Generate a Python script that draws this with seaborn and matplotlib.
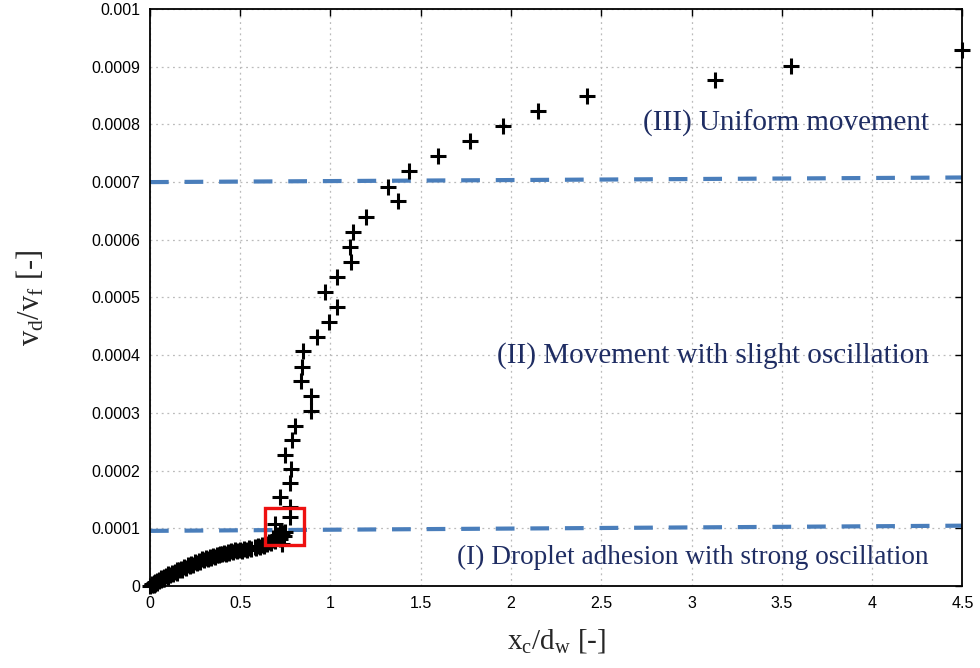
import numpy as np
import matplotlib
matplotlib.use("Agg")
import matplotlib.pyplot as plt
from matplotlib.patches import Rectangle
import seaborn as sns

# ---- data (velocity ratio in units of 1e-4) ----
# dense adhesion cluster near the origin
cluster_x = [0.00, 0.01, 0.01, 0.02, 0.02, 0.03, 0.03, 0.04, 0.04, 0.05,
             0.05, 0.06, 0.06, 0.07, 0.08, 0.08, 0.09, 0.10, 0.10, 0.11,
             0.12, 0.13, 0.14, 0.15, 0.15, 0.16, 0.17, 0.18, 0.19, 0.20,
             0.21, 0.22, 0.23, 0.24, 0.25, 0.26, 0.27, 0.28, 0.29, 0.30,
             0.31, 0.32, 0.33, 0.34, 0.35, 0.36, 0.37, 0.38, 0.39, 0.40,
             0.41, 0.42, 0.43, 0.44, 0.45, 0.46, 0.47, 0.48, 0.50, 0.51,
             0.52, 0.54, 0.55, 0.56, 0.58, 0.59, 0.60, 0.61, 0.62, 0.63,
             0.64, 0.65, 0.66, 0.67, 0.68, 0.69, 0.70, 0.71, 0.72, 0.73,
             0.74, 0.75, 0.73, 0.69, 0.72, 0.68]
cluster_y = [0.00, 0.01, 0.03, 0.02, 0.05, 0.04, 0.07, 0.06, 0.09, 0.08,
             0.11, 0.10, 0.13, 0.12, 0.15, 0.12, 0.17, 0.16, 0.20, 0.19,
             0.22, 0.20, 0.25, 0.23, 0.28, 0.27, 0.30, 0.28, 0.33, 0.31,
             0.36, 0.34, 0.38, 0.37, 0.41, 0.39, 0.44, 0.42, 0.46, 0.45,
             0.48, 0.47, 0.51, 0.49, 0.52, 0.50, 0.54, 0.53, 0.56, 0.55,
             0.58, 0.56, 0.59, 0.58, 0.61, 0.59, 0.62, 0.60, 0.63, 0.61,
             0.64, 0.63, 0.66, 0.64, 0.67, 0.65, 0.69, 0.67, 0.71, 0.69,
             0.74, 0.72, 0.77, 0.75, 0.80, 0.78, 0.84, 0.88, 0.82, 0.91,
             0.86, 0.93, 0.72, 1.08, 0.94, 0.83]
# transition and uniform-movement branch
branch_x = [0.778, 0.778, 0.719, 0.778, 0.780, 0.750, 0.787, 0.806, 0.894,
            0.891, 0.839, 0.845, 0.850, 0.924, 0.994, 1.035, 0.968, 1.038,
            1.112, 1.109, 1.127, 1.199, 1.373, 1.318, 1.434, 1.593, 1.771,
            1.957, 2.151, 2.420, 3.130, 3.550, 4.500]
branch_y = [1.20, 1.37, 1.55, 1.78, 2.03, 2.27, 2.53, 2.77, 3.03,
            3.29, 3.55, 3.80, 4.07, 4.32, 4.58, 4.84, 5.10, 5.36,
            5.62, 5.88, 6.14, 6.40, 6.67, 6.91, 7.19, 7.45, 7.72,
            7.97, 8.23, 8.49, 8.77, 9.01, 9.29]

# regime boundaries (x from 0 to 4.5)
bound_x = [0.0, 4.5]
bound_low = [0.955, 1.045]
bound_high = [7.00, 7.08]

# highlighted region [x0, x1, y0, y1]
box_x = [0.637, 0.854]
box_y = [0.71, 1.35]

regime_labels = ["(III) Uniform movement",
                 "(II) Movement with slight oscillation",
                 "(I) Droplet adhesion with strong oscillation"]
regime_label_y = [8.01, 3.99, 0.49]
regime_label_size = [21, 21, 19.6]

x_ticks = [0, 0.5, 1, 1.5, 2, 2.5, 3, 3.5, 4, 4.5]
y_ticks = [0, 1, 2, 3, 4, 5, 6, 7, 8, 9, 10]
y_tick_labels = ["0", "0.0001", "0.0002", "0.0003", "0.0004", "0.0005",
                 "0.0006", "0.0007", "0.0008", "0.0009", "0.001"]

SCALE = 1e-4

sns.set_style("white")
plt.rcParams["font.family"] = ["Liberation Sans", "DejaVu Sans"]
plt.rcParams["mathtext.fontset"] = "custom"
plt.rcParams["mathtext.rm"] = "Liberation Serif"
plt.rcParams["mathtext.it"] = "Liberation Serif"

fig = plt.figure(figsize=(9.8, 6.68), dpi=100)
ax = fig.add_axes([0.153, 0.1228, 0.829, 0.8637])

line_kw = dict(color="#4a7ebb", linewidth=3.0, dashes=(4.5, 3.8), legend=False)
sns.lineplot(x=bound_x, y=np.array(bound_low) * SCALE, ax=ax, **line_kw)
sns.lineplot(x=bound_x, y=np.array(bound_high) * SCALE, ax=ax, **line_kw)

pts_x = cluster_x + branch_x
pts_y = np.array(cluster_y + branch_y) * SCALE
sns.scatterplot(x=pts_x, y=pts_y, marker="+", s=140, color="black",
                linewidth=2.2, ax=ax, clip_on=False, zorder=5)

ax.add_patch(Rectangle((box_x[0], box_y[0] * SCALE),
                       box_x[1] - box_x[0], (box_y[1] - box_y[0]) * SCALE,
                       fill=False, edgecolor="#ee1111", linewidth=2.4, zorder=6))

for label, ly, fs in zip(regime_labels, regime_label_y, regime_label_size):
    ax.text(4.313, ly * SCALE, label, ha="right", va="center",
            fontsize=fs, color="#1f2d63", family="Liberation Serif")

ax.set_xlim(0, 4.5)
ax.set_ylim(0, 0.001)
ax.set_xticks(x_ticks)
ax.set_xticklabels([f"{t:g}" for t in x_ticks])
ax.set_yticks(np.array(y_ticks) * SCALE)
ax.set_yticklabels(y_tick_labels)
ax.tick_params(direction="in", length=5, width=1, top=True, right=True,
               labelsize=11.5, colors="black", pad=7)
ax.grid(True, linestyle=(0, (1.5, 3)), color="#bbbbbb", linewidth=0.9)
for sp in ax.spines.values():
    sp.set_color("black")
    sp.set_linewidth(1.3)

ax.set_xlabel(r"$\mathrm{x_c/d_w}$ [-]", fontsize=21,
              family="Liberation Serif", labelpad=12)
ax.set_ylabel(r"$\mathrm{v_d/v_f}$ [-]", fontsize=22,
              family="Liberation Serif", labelpad=32)

fig.savefig("out.png", dpi=100)
